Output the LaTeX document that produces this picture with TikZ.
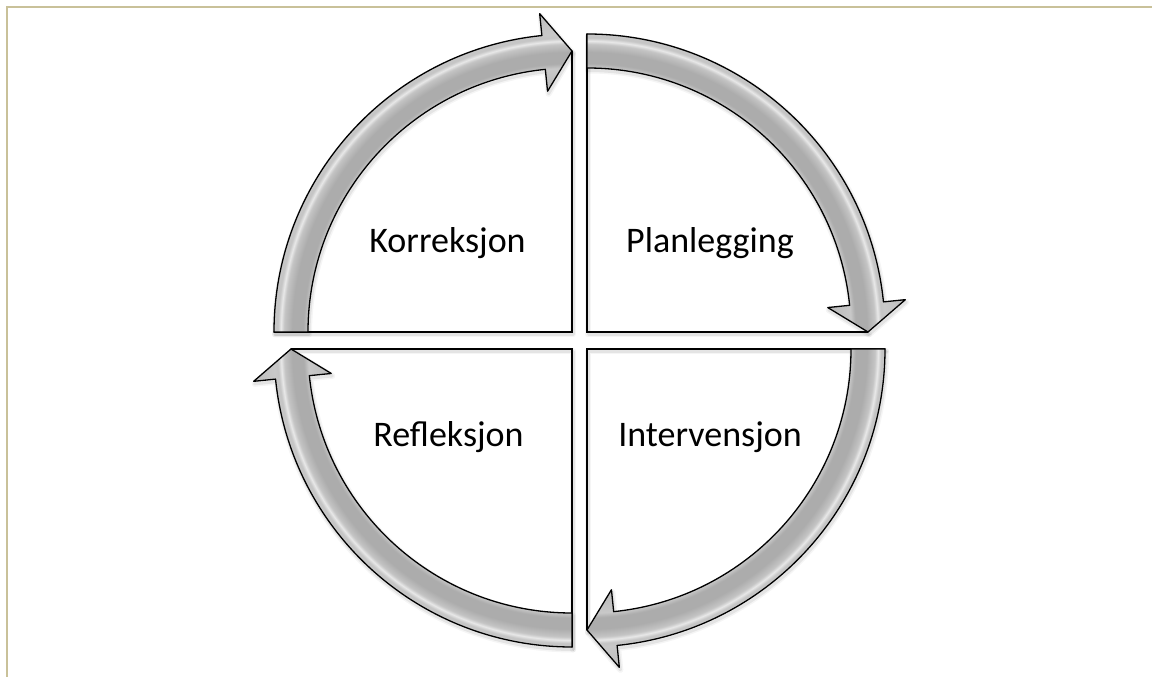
\documentclass[tikz,border=0pt]{standalone}
\usepackage{fontspec}
\setmainfont{Carlito}

% colours
\definecolor{frameline}{RGB}{201,193,153}
\definecolor{ringA}{RGB}{184,184,184}
\definecolor{ringB}{RGB}{200,200,200}
\definecolor{ringC}{RGB}{172,172,172}
\definecolor{ringD}{RGB}{196,196,196}
\definecolor{ringE}{RGB}{232,232,232}

% bevel look across the band of each arrow (shaded circle of radius 330 about the corner)
\pgfdeclareradialshading{bevelring}{\pgfpoint{0bp}{0bp}}{%
  color(0bp)=(ringA); color(18.3bp)=(ringA); color(20bp)=(ringB);
  color(20.35bp)=(ringC); color(21.2bp)=(ringC); color(21.8bp)=(ringD);
  color(22.05bp)=(ringE); color(22.3bp)=(ringD); color(22.58bp)=(ringB);
  color(25bp)=(ringA); color(50bp)=(ringA)}

% geometry of the quarter arrows
\def\Rin{264}
\def\Rout{298}
\def\Rmid{281}
\def\Rhin{242}
\def\Rhout{320}
\def\headang{5.8}

\tikzset{
  ringedge/.style={draw=black, line width=1.3pt, line join=round},
  quadline/.style={draw=black, line width=1.3pt, line cap=round},
  softshadow/.style={draw=black, line join=round, line cap=round},
  phaselabel/.style={font=\fontsize{36}{43}\selectfont, anchor=base, inner sep=0pt},
  frame/.style={draw=frameline, line width=2pt}
}

% one quadrant: corner #1, tail angle #2; the arrow runs clockwise over 90 degrees
\newcommand{\cyclearrow}[2]{%
  \begin{scope}[shift={(#1)}]
    \pgfmathsetmacro{\ta}{#2}
    \pgfmathsetmacro{\ha}{#2-90}
    \pgfmathsetmacro{\hb}{#2-90+\headang}
    \def\arrowpath{(\ta:\Rout) arc[start angle=\ta, end angle=\hb, radius=\Rout]
      -- (\hb:\Rhout) -- (\ha:\Rmid) -- (\hb:\Rhin) -- (\hb:\Rin)
      arc[start angle=\hb, end angle=\ta, radius=\Rin] -- cycle}
    % soft shadow
    \begin{scope}[shift={(1,-2.5)}]
      \draw[softshadow, line width=6pt, opacity=0.04] (\ta:\Rout) -- (0,0) -- (\ha:\Rmid);
      \draw[softshadow, line width=3pt, opacity=0.07] (\ta:\Rout) -- (0,0) -- (\ha:\Rmid);
      \draw[softshadow, line width=6pt, opacity=0.04] \arrowpath;
      \draw[softshadow, line width=3pt, opacity=0.07] \arrowpath;
    \end{scope}
    % straight edges of the quadrant
    \draw[quadline] (\ta:\Rout) -- (0,0) -- (\ha:\Rmid);
    % arrow body
    \begin{scope}
      \clip \arrowpath;
      \shade[shading=bevelring] (0,0) circle (330);
    \end{scope}
    \draw[ringedge] \arrowpath;
  \end{scope}}

\begin{document}
\begin{tikzpicture}[x=1pt, y=1pt]
  \useasboundingbox (0,0) rectangle (1152,677);

  % page frame
  \draw[frame] (7,0) -- (7,670) -- (1152,670);

  % inner corners of the four quadrants
  \coordinate (c1) at (572,345);
  \coordinate (c2) at (587,345);
  \coordinate (c3) at (587,328);
  \coordinate (c4) at (572,328);

  \cyclearrow{c1}{180}
  \cyclearrow{c2}{90}
  \cyclearrow{c3}{0}
  \cyclearrow{c4}{-90}

  \node[phaselabel] (korr) at (447.5,424) {Korreksjon};
  \node[phaselabel] (plan) at (710,424) {Planlegging};
  \node[phaselabel] (inte) at (710,230) {Intervensjon};
  \node[phaselabel] (refl) at (448.5,230) {Refleksjon};
\end{tikzpicture}
\end{document}
